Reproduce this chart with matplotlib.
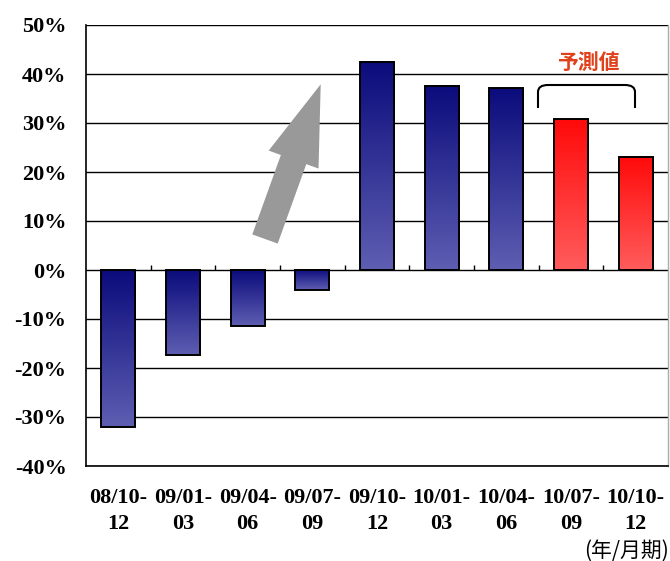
import matplotlib
matplotlib.use("Agg")
import matplotlib.pyplot as plt
import numpy as np
from matplotlib.colors import LinearSegmentedColormap
from matplotlib.patches import FancyArrow, PathPatch
from matplotlib.path import Path
from matplotlib.transforms import Affine2D

# 四半期ごとの前年同期比
periods = ['08/10-\n12', '09/01-\n03', '09/04-\n06', '09/07-\n09', '09/10-\n12',
           '10/01-\n03', '10/04-\n06', '10/07-\n09', '10/10-\n12']
growth = [-32.0, -17.3, -11.4, -4.1, 42.5, 37.6, 37.1, 30.8, 23.1]
forecast = [False, False, False, False, False, False, False, True, True]
y_ticks = list(range(-40, 51, 10))

W, H, DPI = 670, 561, 100
fig = plt.figure(figsize=(W / DPI, H / DPI), dpi=DPI)
ax = fig.add_axes([86 / W, 1 - 466 / H, 582 / W, 441 / H])

# ピクセル座標(左上原点)で図形を置くための変換
px = Affine2D().scale(1 / DPI, -1 / DPI).translate(0, H / DPI) + fig.dpi_scale_trans

blue_cmap = LinearSegmentedColormap.from_list('navy', ['#0b0b7c', '#5e5eb2'])
red_cmap = LinearSegmentedColormap.from_list('red', ['#ff0a0a', '#ff5c5c'])
grad = np.linspace(0, 1, 256).reshape(-1, 1)

bar_w = 0.53
x = np.arange(len(periods))
for xi, v, fc in zip(x, growth, forecast):
    top, bottom = max(v, 0), min(v, 0)
    cmap = red_cmap if fc else blue_cmap
    ax.imshow(grad, cmap=cmap, aspect='auto', origin='upper',
              extent=(xi - bar_w / 2, xi + bar_w / 2, bottom, top), zorder=2)
ax.bar(x, growth, width=bar_w, facecolor='none', edgecolor='black',
       linewidth=1.4, zorder=3)

ax.set_xlim(-0.5, len(periods) - 0.5)
ax.set_ylim(-40, 50)
ax.set_yticks(y_ticks)
ax.set_yticklabels([f'{t}%' for t in y_ticks])
ax.set_xticks(x)
ax.set_xticklabels(periods, linespacing=1.4)
ax.tick_params(axis='both', length=0, labelsize=16)
ax.tick_params(axis='y', pad=14)
ax.tick_params(axis='x', pad=16)
for lab in ax.get_xticklabels() + ax.get_yticklabels():
    lab.set_fontfamily('Liberation Serif')
    lab.set_fontweight('bold')

# 目盛線とゼロ線
for t in y_ticks:
    ax.axhline(t, color='black', linewidth=1.0, zorder=1)
ax.vlines(np.arange(0.5, len(periods) - 0.5), 0, 1.0, color='black',
          linewidth=1.0, zorder=1)

ax.spines['top'].set_visible(False)
ax.spines['left'].set_linewidth(1.2)
ax.spines['bottom'].set_linewidth(1.2)
ax.spines['right'].set_color('#aaaaaa')
ax.spines['right'].set_linewidth(1.0)

# 上昇を示す矢印
tail = np.array([265.0, 239.0])
tip = np.array([320.7, 84.3])
d = tip - tail
fig.patches.append(FancyArrow(tail[0], tail[1], d[0], d[1], width=27,
                              head_width=53, head_length=80,
                              length_includes_head=True, color='#999999',
                              linewidth=0, transform=px, figure=fig))

# 予測値の括弧
verts = [(538, 108), (538, 92), (538, 85), (548, 85), (625, 85),
         (635, 85), (635, 92), (635, 108)]
codes = [Path.MOVETO, Path.LINETO, Path.CURVE3, Path.CURVE3, Path.LINETO,
         Path.CURVE3, Path.CURVE3, Path.LINETO]
fig.patches.append(PathPatch(Path(verts, codes), facecolor='none',
                             edgecolor='black', linewidth=1.5,
                             transform=px, figure=fig))
fig.text(588 / W, 1 - 62 / H, '予測値', ha='center', va='center',
         fontsize=15, fontweight='bold', color='#e0401a',
         family=['Noto Sans CJK JP', 'DejaVu Sans'])

fig.text(669 / W, 1 - 551 / H, '(年/月期)', ha='right', va='center',
         fontsize=15, family=['Noto Sans CJK JP', 'DejaVu Sans'])

fig.savefig('out.png', dpi=DPI)
